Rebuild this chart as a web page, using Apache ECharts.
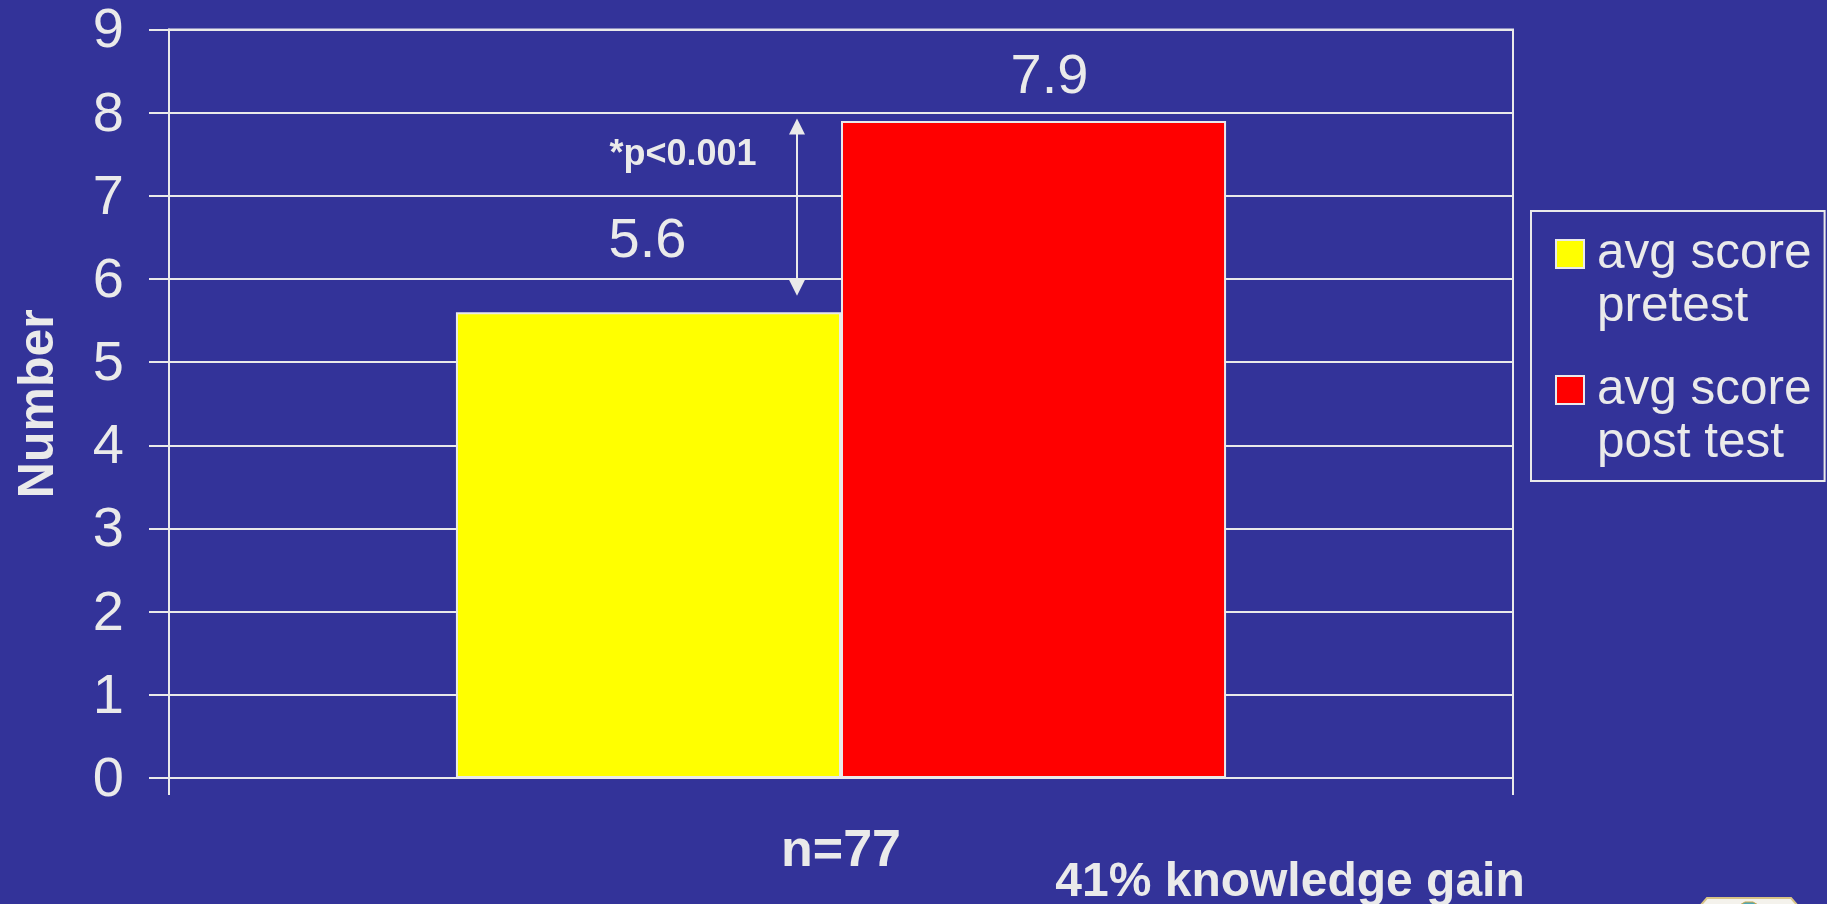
<!DOCTYPE html>
<html>
<head>
<meta charset="utf-8">
<style>html,body{margin:0;padding:0;background:#333399;overflow:hidden}#c{width:1827px;height:904px}</style>
<script src="https://cdn.jsdelivr.net/npm/echarts@6/dist/echarts.min.js"></script>
</head>
<body>
<div id="c"></div>
<script>
const categories = ['n=77'];
const pretestName = 'avg score\npretest';
const posttestName = 'avg score\npost test';
const pretestValues = [5.6];
const posttestValues = [7.9];
const yTicks = {min: 0, max: 9, interval: 1};
const yAxisTitle = 'Number';
const pValueText = '*p<0.001';
const gainText = '41% knowledge gain';
const arrowRange = [7.93, 5.8];

const ink = '#EAEAEA';
const font = '"Liberation Sans", Arial, sans-serif';
const chart = echarts.init(document.getElementById('c'), null, {renderer: 'canvas'});
const swatch = 'path://M0 0h0M0 13H28V41H0ZM0 108h0';

chart.setOption({
  animation: false,
  backgroundColor: '#333399',
  textStyle: {fontFamily: font, color: ink},
  grid: {left: 169, right: 314, top: 29.5, bottom: 126, outerBoundsMode: 'none', show: true, borderColor: ink, borderWidth: 2, backgroundColor: 'transparent'},
  legend: {
    orient: 'vertical', left: 1531, top: 211,
    padding: [15, 13, 9, 24], itemGap: 26, itemWidth: 28, itemHeight: 108,
    borderColor: ink, borderWidth: 2, backgroundColor: 'transparent',
    selectedMode: false,
    itemStyle: {borderColor: ink, borderWidth: 2},
    textStyle: {color: ink, fontFamily: font, fontSize: 49.5, lineHeight: 53, padding: [2, 0, 0, 8]},
    data: [{name: pretestName, icon: swatch}, {name: posttestName, icon: swatch}]
  },
  xAxis: {
    type: 'category', data: categories,
    axisLine: {lineStyle: {color: ink, width: 2}},
    axisTick: {show: true, length: 17, lineStyle: {color: ink, width: 2}},
    axisLabel: {color: ink, fontFamily: font, fontSize: 52, fontWeight: 'bold', margin: 48}
  },
  yAxis: {
    type: 'value', min: yTicks.min, max: yTicks.max, interval: yTicks.interval,
    name: yAxisTitle, nameLocation: 'middle', nameGap: 105, nameRotate: 90,
    nameTextStyle: {color: ink, fontFamily: font, fontSize: 50, fontWeight: 'bold'},
    axisLine: {show: true, lineStyle: {color: ink, width: 2}},
    axisTick: {show: true, length: 20, lineStyle: {color: ink, width: 2}},
    axisLabel: {color: ink, fontFamily: font, fontSize: 56, margin: 45, lineHeight: 5, verticalAlign: 'top', verticalAlignMaxLabel: 'top', verticalAlignMinLabel: 'top'},
    splitLine: {show: true, lineStyle: {color: ink, width: 2}}
  },
  series: [
    {name: pretestName, type: 'bar', data: pretestValues, barWidth: '28.65%', barGap: 0,
     itemStyle: {color: '#FFFF00', borderColor: ink, borderWidth: 2},
     label: {show: true, position: 'top', distance: 43, offset: [-1, 0], color: ink, fontFamily: font, fontSize: 56, formatter: p => p.value.toFixed(1)}},
    {name: posttestName, type: 'bar', data: posttestValues, barWidth: '28.65%', barGap: 0,
     itemStyle: {color: '#FF0000', borderColor: ink, borderWidth: 2},
     label: {show: true, position: 'top', distance: 15, offset: [16, 0], color: ink, fontFamily: font, fontSize: 56, formatter: p => p.value.toFixed(1)}}
  ]
});

const yTop = chart.convertToPixel({yAxisIndex: 0}, arrowRange[0]);
const yBottom = chart.convertToPixel({yAxisIndex: 0}, arrowRange[1]);
const arrowX = 797;
chart.setOption({
  graphic: [
    {type: 'line', shape: {x1: arrowX, y1: yTop + 8, x2: arrowX, y2: yBottom - 8}, style: {stroke: ink, lineWidth: 2}, z: 10},
    {type: 'polygon', shape: {points: [[arrowX, yTop], [arrowX - 8, yTop + 16], [arrowX + 8, yTop + 16]]}, style: {fill: ink}, z: 10},
    {type: 'polygon', shape: {points: [[arrowX, yBottom], [arrowX - 8, yBottom - 16], [arrowX + 8, yBottom - 16]]}, style: {fill: ink}, z: 10},
    {type: 'text', x: 683, y: 155, style: {text: pValueText, fill: ink, font: 'bold 36px ' + font, textAlign: 'center', textVerticalAlign: 'middle'}, z: 10},
    {type: 'text', x: 1290, y: 883, style: {text: gainText, fill: ink, font: 'bold 48px ' + font, textAlign: 'center', textVerticalAlign: 'middle'}, z: 10},
    {type: 'polygon', shape: {points: [[1700, 906], [1707, 898], [1791, 898], [1798, 906]]}, style: {fill: '#F4F2EC', stroke: '#D9C486', lineWidth: 2}, z: 10},
    {type: 'polygon', shape: {points: [[1738, 906], [1745, 902], [1753, 902], [1760, 906]]}, style: {fill: '#4FA7B5', stroke: '#C9A94E', lineWidth: 1}, z: 11}
  ]
});
</script>
</body>
</html>
